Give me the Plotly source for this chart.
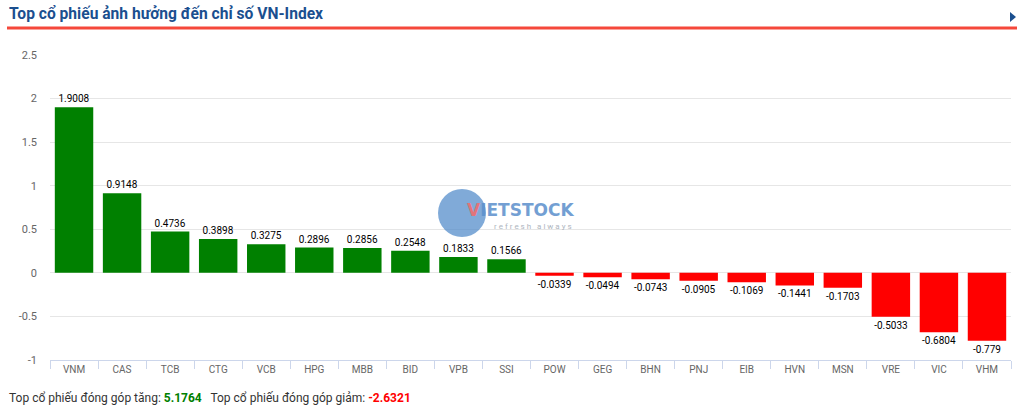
import plotly.graph_objects as go

categories = ["VNM", "CAS", "TCB", "CTG", "VCB", "HPG", "MBB", "BID", "VPB", "SSI",
              "POW", "GEG", "BHN", "PNJ", "EIB", "HVN", "MSN", "VRE", "VIC", "VHM"]
values = [1.9008, 0.9148, 0.4736, 0.3898, 0.3275, 0.2896, 0.2856, 0.2548, 0.1833, 0.1566,
          -0.0339, -0.0494, -0.0743, -0.0905, -0.1069, -0.1441, -0.1703, -0.5033, -0.6804, -0.779]
value_labels = ["1.9008", "0.9148", "0.4736", "0.3898", "0.3275", "0.2896", "0.2856", "0.2548", "0.1833", "0.1566",
                "-0.0339", "-0.0494", "-0.0743", "-0.0905", "-0.1069", "-0.1441", "-0.1703", "-0.5033", "-0.6804", "-0.779"]
y_ticks = [2.5, 2, 1.5, 1, 0.5, 0, -0.5, -1]
y_tick_labels = ["2.5", "2", "1.5", "1", "0.5", "0", "-0.5", "-1"]
total_up = "5.1764"
total_down = "-2.6321"

W, H = 1024, 407
L, R, T, B = 50, 13, 55, 47
PW, PH = W - L - R, H - T - B


def px(x):
    return (x - L) / PW


def py(y):
    return (H - B - y) / PH


colors = ["#008000" if v >= 0 else "#ff0000" for v in values]

fig = go.Figure(go.Bar(
    x=categories, y=values, marker=dict(color=colors, line=dict(width=0)),
    text=value_labels, textposition="outside", textangle=0,
    textfont=dict(family="Roboto, Arial, sans-serif", size=10, color="#000000"),
    cliponaxis=False, hoverinfo="x+y",
))

fig.update_layout(
    width=W, height=H,
    margin=dict(l=L, r=R, t=T, b=B),
    paper_bgcolor="white", plot_bgcolor="white",
    bargap=0.2, showlegend=False,
    font=dict(family="Roboto, Arial, sans-serif"),
    xaxis=dict(
        type="category", tickson="boundaries", ticks="outside", ticklen=8,
        tickcolor="#ccd6eb", showline=True, linecolor="#ccd6eb", linewidth=1,
        showgrid=False, tickfont=dict(size=10, color="#666666"), fixedrange=True,
    ),
    yaxis=dict(
        range=[-1, 2.5], tickvals=y_ticks, ticktext=y_tick_labels,
        showgrid=True, gridcolor="#e6e6e6", zeroline=False, ticks="",
        tickfont=dict(size=11, color="#666666"), ticklabelstandoff=12, fixedrange=True,
    ),
    shapes=[
        dict(type="line", xref="paper", yref="paper", x0=px(7), x1=px(1017), y0=py(28), y1=py(28),
             line=dict(color="#f5483b", width=3)),
        dict(type="path", xref="paper", yref="paper",
             path=f"M {px(1010)} {py(12)} L {px(1016)} {py(17)} L {px(1010)} {py(22)} Z",
             fillcolor="#1b4f8f", line=dict(width=0)),
        dict(type="circle", xref="paper", yref="paper", xsizemode="pixel", ysizemode="pixel",
             xanchor=px(462), yanchor=py(213), x0=-24, x1=24, y0=-24, y1=24,
             fillcolor="#4a86c8", opacity=0.7, line=dict(width=0), layer="above"),
    ],
    annotations=[
        dict(xref="paper", yref="paper", x=px(7), y=py(14), xanchor="left", yanchor="middle",
             text="<b>Top cổ phiếu ảnh hưởng đến chỉ số VN-Index</b>", showarrow=False,
             font=dict(size=15.6, color="#1b4f8f")),
        dict(xref="paper", yref="paper", x=px(7), y=py(398), xanchor="left", yanchor="middle",
             text=("Top cổ phiếu đóng góp tăng: <span style='color:#008000'><b>" + total_up + "</b></span>"
                   "   Top cổ phiếu đóng góp giảm: <span style='color:#ff0000'><b>" + total_down + "</b></span>"),
             showarrow=False, font=dict(size=12, color="#333333")),
        dict(xref="paper", yref="paper", x=px(465), y=py(210), xanchor="left", yanchor="middle",
             text="<b><span style='color:#f26b6b'>V</span>IETSTOCK</b>", showarrow=False,
             font=dict(family="DejaVu Sans, sans-serif", size=17, color="#5b8fcc"), opacity=0.85),
        dict(xref="paper", yref="paper", x=px(492), y=py(226), xanchor="left", yanchor="middle",
             text="r e f r e s h   a l w a y s", showarrow=False,
             font=dict(size=8, color="#9aa4b0"), opacity=0.8),
    ],
)

fig.write_html("out.html", config={"displayModeBar": False},
               post_script="document.body.style.margin='0px';")
